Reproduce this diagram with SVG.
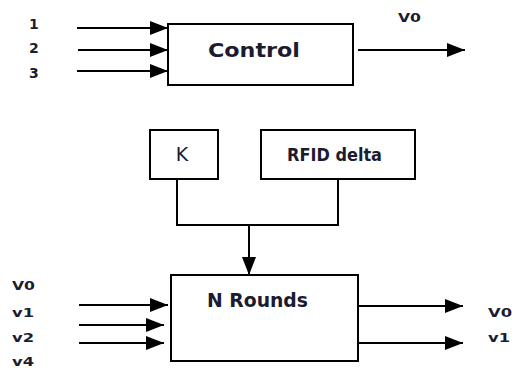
<svg xmlns="http://www.w3.org/2000/svg" width="515" height="368" viewBox="0 0 515 368">
<style>
.box{fill:#fff;stroke:#000;stroke-width:2}
.ln{fill:none;stroke:#000;stroke-width:2}
.t{font-family:"DejaVu Sans",Verdana,sans-serif;font-weight:bold;fill:#1c1c30}
.s{font-size:13px}
.d{font-size:14px}
.b{font-size:20px}
</style>
<defs>
<marker id="ah" markerUnits="userSpaceOnUse" markerWidth="20" markerHeight="14" refX="18" refY="7" orient="auto">
<path d="M0,0 L18,7 L0,14 Z" fill="#000"/>
</marker>
</defs>
<rect width="515" height="368" fill="#fff"/>
<g id="control">
<rect class="box" x="168" y="24" width="185" height="61"/>
<text class="t b" x="208" y="57" textLength="92" lengthAdjust="spacingAndGlyphs">Control</text>
</g>
<g id="k">
<rect class="box" x="150" y="130" width="68" height="49"/>
<text x="182" y="161" text-anchor="middle" font-family="DejaVu Sans,Verdana,sans-serif" font-size="19" fill="#1c1c30">K</text>
</g>
<g id="rfid">
<rect class="box" x="261" y="130" width="154" height="49"/>
<text class="t" x="287" y="161" font-size="18" textLength="95" lengthAdjust="spacingAndGlyphs">RFID delta</text>
</g>
<g id="nrounds">
<rect class="box" x="171" y="275" width="187" height="86"/>
<text class="t b" x="207" y="307" textLength="101" lengthAdjust="spacingAndGlyphs">N Rounds</text>
</g>
<g id="labels">
<text class="t d" x="29" y="29">1</text>
<text class="t d" x="29" y="53">2</text>
<text class="t d" x="29" y="78">3</text>
<text class="t s" x="398" y="22" textLength="23" lengthAdjust="spacingAndGlyphs">V0</text>
<text class="t s" x="12" y="290" textLength="23" lengthAdjust="spacingAndGlyphs">V0</text>
<text class="t s" x="12" y="317" textLength="22" lengthAdjust="spacingAndGlyphs">v1</text>
<text class="t s" x="12" y="342" textLength="22" lengthAdjust="spacingAndGlyphs">v2</text>
<text class="t s" x="12" y="366" textLength="22" lengthAdjust="spacingAndGlyphs">v4</text>
<text class="t s" x="488" y="317" textLength="24" lengthAdjust="spacingAndGlyphs">V0</text>
<text class="t s" x="488" y="342" textLength="22" lengthAdjust="spacingAndGlyphs">v1</text>
</g>
<g id="connectors">
<line class="ln" x1="77" y1="28" x2="168" y2="28" marker-end="url(#ah)"/>
<line class="ln" x1="78" y1="50" x2="168" y2="50" marker-end="url(#ah)"/>
<line class="ln" x1="77" y1="71" x2="168" y2="71" marker-end="url(#ah)"/>
<line class="ln" x1="358" y1="50" x2="465" y2="50" marker-end="url(#ah)"/>
<polyline class="ln" points="177,179 177,225 338,225 338,179"/>
<line class="ln" x1="249" y1="225" x2="249" y2="275" marker-end="url(#ah)"/>
<line class="ln" x1="79" y1="305" x2="168" y2="305" marker-end="url(#ah)"/>
<line class="ln" x1="79" y1="325" x2="164" y2="325" marker-end="url(#ah)"/>
<line class="ln" x1="79" y1="343" x2="164" y2="343" marker-end="url(#ah)"/>
<line class="ln" x1="358" y1="306" x2="463" y2="306" marker-end="url(#ah)"/>
<line class="ln" x1="358" y1="343" x2="463" y2="343" marker-end="url(#ah)"/>
</g>
</svg>
